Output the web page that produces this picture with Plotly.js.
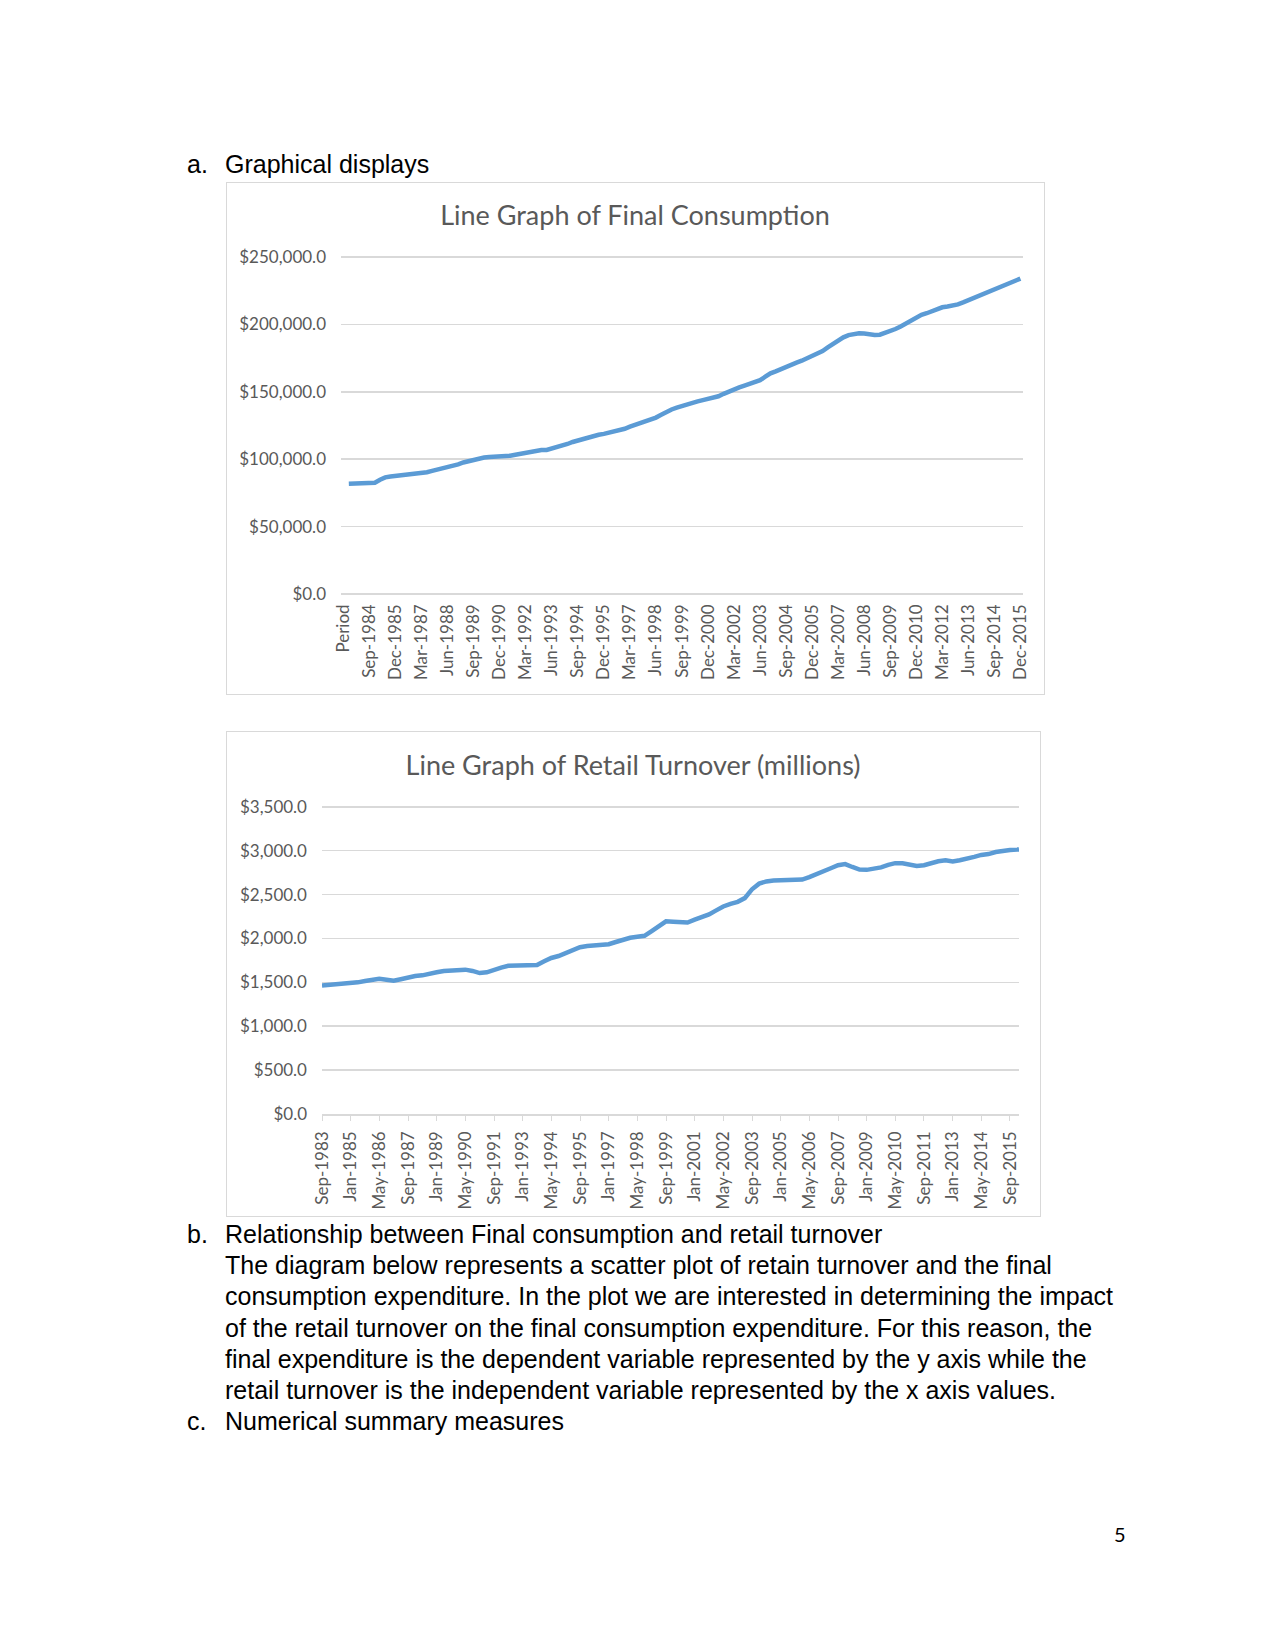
<!DOCTYPE html>
<html>
<head>
<meta charset="utf-8">
<script src="https://cdn.plot.ly/plotly-3.0.1.min.js"></script>
<style>
  html, body { margin: 0; padding: 0; background: #ffffff; }
  #page { position: relative; width: 1275px; height: 1650px; background: #ffffff; overflow: hidden; }
  .txt { position: absolute; font-family: 'Liberation Sans', Arial, sans-serif; font-size: 25px; line-height: 31.2px; color: #000; white-space: nowrap; }
  .chartbox { position: absolute; border: 1.5px solid #d9d9d9; box-sizing: border-box; background: #fff; }
  #pg { position: absolute; font-family: Lato, 'Open Sans', sans-serif; font-size: 20px; color: #000; }
</style>
</head>
<body>
<div id="page">
  <div class="txt" style="left:187px; top:149px;">a.</div>
  <div class="txt" style="left:225px; top:149px;">Graphical displays</div>

  <div id="chart1" class="chartbox" style="left:226px; top:182px; width:819px; height:513px;"></div>
  <div id="chart2" class="chartbox" style="left:226px; top:731px; width:815px; height:486px;"></div>

  <div class="txt" style="left:187px; top:1219px;">b.</div>
  <div class="txt" style="left:225px; top:1219px;">Relationship between Final consumption and retail turnover<br>The diagram below represents a scatter plot of retain turnover and the final<br>consumption expenditure. In the plot we are interested in determining the impact<br>of the retail turnover on the final consumption expenditure. For this reason, the<br>final expenditure is the dependent variable represented by the y axis while the<br>retail turnover is the independent variable represented by the x axis values.</div>
  <div class="txt" style="left:187px; top:1406px;">c.</div>
  <div class="txt" style="left:225px; top:1406px;">Numerical summary measures</div>

  <div id="pg" style="left:1114px; top:1522px;">5</div>
</div>
<script>
// ---------- Chart 1: Final Consumption (quarterly, category axis) ----------
const consumptionCategories = [
  "Period",
  "Sep-1983","Dec-1983",
  "Mar-1984","Jun-1984","Sep-1984","Dec-1984",
  "Mar-1985","Jun-1985","Sep-1985","Dec-1985",
  "Mar-1986","Jun-1986","Sep-1986","Dec-1986",
  "Mar-1987","Jun-1987","Sep-1987","Dec-1987",
  "Mar-1988","Jun-1988","Sep-1988","Dec-1988",
  "Mar-1989","Jun-1989","Sep-1989","Dec-1989",
  "Mar-1990","Jun-1990","Sep-1990","Dec-1990",
  "Mar-1991","Jun-1991","Sep-1991","Dec-1991",
  "Mar-1992","Jun-1992","Sep-1992","Dec-1992",
  "Mar-1993","Jun-1993","Sep-1993","Dec-1993",
  "Mar-1994","Jun-1994","Sep-1994","Dec-1994",
  "Mar-1995","Jun-1995","Sep-1995","Dec-1995",
  "Mar-1996","Jun-1996","Sep-1996","Dec-1996",
  "Mar-1997","Jun-1997","Sep-1997","Dec-1997",
  "Mar-1998","Jun-1998","Sep-1998","Dec-1998",
  "Mar-1999","Jun-1999","Sep-1999","Dec-1999",
  "Mar-2000","Jun-2000","Sep-2000","Dec-2000",
  "Mar-2001","Jun-2001","Sep-2001","Dec-2001",
  "Mar-2002","Jun-2002","Sep-2002","Dec-2002",
  "Mar-2003","Jun-2003","Sep-2003","Dec-2003",
  "Mar-2004","Jun-2004","Sep-2004","Dec-2004",
  "Mar-2005","Jun-2005","Sep-2005","Dec-2005",
  "Mar-2006","Jun-2006","Sep-2006","Dec-2006",
  "Mar-2007","Jun-2007","Sep-2007","Dec-2007",
  "Mar-2008","Jun-2008","Sep-2008","Dec-2008",
  "Mar-2009","Jun-2009","Sep-2009","Dec-2009",
  "Mar-2010","Jun-2010","Sep-2010","Dec-2010",
  "Mar-2011","Jun-2011","Sep-2011","Dec-2011",
  "Mar-2012","Jun-2012","Sep-2012","Dec-2012",
  "Mar-2013","Jun-2013","Sep-2013","Dec-2013",
  "Mar-2014","Jun-2014","Sep-2014","Dec-2014",
  "Mar-2015","Jun-2015","Sep-2015","Dec-2015"
];
const consumptionValues = [
  null,
  81800, 82100,
  82300, 82400, 82500, 82600,
  84800, 86500, 87200, 87600,
  88200, 88700, 89000, 89300,
  89600, 90300, 91300, 92200,
  92800, 93700, 94800, 96200,
  97600, 98700, 99600, 100400,
  101200, 101700, 101900, 101900,
  102000, 102600, 103300, 104100,
  105000, 106000, 106600, 106800,
  106900, 107800, 108700, 109900,
  111300, 112800, 114000, 115000,
  116200, 117300, 118100, 118800,
  119600, 120300, 121300, 122600,
  124100, 125400, 126800, 128300,
  129700, 130900, 132900, 135100,
  136900, 138300, 139600, 140500,
  141800, 142900, 143800, 144600,
  145500, 146700, 148500, 150400,
  151900, 153300, 154600, 155700,
  157000, 158600, 161200, 163700,
  165200, 167000, 168500, 170200,
  171700, 173100, 174700, 176300,
  178200, 180300, 183000, 185800,
  188000, 190400, 192100, 193000,
  193400, 193200, 192600, 192100,
  192400, 193600, 195000, 196600,
  198500, 200800, 203300, 205600,
  207100, 208300, 209700, 211400,
  212700, 213300, 213700, 214900,
  216400, 218000, 219600, 221200,
  222700, 224200, 225700, 227300,
  229100, 230900, 232400, 234000
];
const consumptionTickLabels = [
  "Period","Sep-1984","Dec-1985","Mar-1987","Jun-1988","Sep-1989","Dec-1990",
  "Mar-1992","Jun-1993","Sep-1994","Dec-1995","Mar-1997","Jun-1998","Sep-1999",
  "Dec-2000","Mar-2002","Jun-2003","Sep-2004","Dec-2005","Mar-2007","Jun-2008",
  "Sep-2009","Dec-2010","Mar-2012","Jun-2013","Sep-2014","Dec-2015"
];

// ---------- Chart 2: Retail Turnover (millions) ----------
const retailDates = [
  "1983-09","1984-01","1984-05","1984-09",
  "1985-01","1985-05","1985-09","1986-01",
  "1986-05","1986-09","1987-01","1987-05",
  "1987-09","1988-01","1988-05","1988-09",
  "1989-01","1989-05","1989-09","1990-01",
  "1990-05","1990-09","1991-01","1991-05",
  "1991-09","1992-01","1992-05","1992-09",
  "1993-01","1993-05","1993-09","1994-01",
  "1994-05","1994-09","1995-01","1995-05",
  "1995-09","1996-01","1996-05","1996-09",
  "1997-01","1997-05","1997-09","1998-01",
  "1998-05","1998-09","1999-01","1999-05",
  "1999-09","2000-01","2000-05","2000-09",
  "2001-01","2001-05","2001-09","2002-01",
  "2002-05","2002-09","2003-01","2003-05",
  "2003-09","2004-01","2004-05","2004-09",
  "2005-01","2005-05","2005-09","2006-01",
  "2006-05","2006-09","2007-01","2007-05",
  "2007-09","2008-01","2008-05","2008-09",
  "2009-01","2009-05","2009-09","2010-01",
  "2010-05","2010-09","2011-01","2011-05",
  "2011-09","2012-01","2012-05","2012-09",
  "2013-01","2013-05","2013-09","2014-01",
  "2014-05","2014-09","2015-01","2015-05",
  "2015-09","2016-01","2016-02"
];
const retailValues = [
  1464, 1470, 1474, 1478,
  1485, 1500, 1515, 1530,
  1542, 1530, 1518, 1535,
  1558, 1572, 1580, 1592,
  1615, 1630, 1638, 1642,
  1645, 1630, 1606, 1615,
  1645, 1668, 1688, 1692,
  1693, 1692, 1698, 1740,
  1778, 1800, 1830, 1865,
  1900, 1915, 1918, 1920,
  1935, 1960, 1990, 2008,
  2020, 2030, 2085, 2140,
  2195, 2192, 2183, 2182,
  2215, 2245, 2275, 2320,
  2365, 2395, 2418, 2460,
  2560, 2625, 2650, 2660,
  2663, 2662, 2660, 2672,
  2700, 2730, 2758, 2800,
  2835, 2848, 2815, 2785,
  2782, 2790, 2810, 2838,
  2858, 2858, 2840, 2826,
  2835, 2860, 2880, 2890,
  2878, 2892, 2905, 2930,
  2952, 2962, 2985, 3000,
  3008, 3013, 3015
];
const retailTickDates = [
  "1983-09-01","1985-01-01","1986-05-01","1987-09-01","1989-01-01","1990-05-01",
  "1991-09-01","1993-01-01","1994-05-01","1995-09-01","1997-01-01","1998-05-01",
  "1999-09-01","2001-01-01","2002-05-01","2003-09-01","2005-01-01","2006-05-01",
  "2007-09-01","2009-01-01","2010-05-01","2011-09-01","2013-01-01","2014-05-01",
  "2015-09-01"
];
const retailTickLabels = [
  "Sep-1983","Jan-1985","May-1986","Sep-1987","Jan-1989","May-1990",
  "Sep-1991","Jan-1993","May-1994","Sep-1995","Jan-1997","May-1998",
  "Sep-1999","Jan-2001","May-2002","Sep-2003","Jan-2005","May-2006",
  "Sep-2007","Jan-2009","May-2010","Sep-2011","Jan-2013","May-2014",
  "Sep-2015"
];

const FONT = 'Lato, Carlito, "Open Sans", sans-serif';
const GREY = '#595959';
const GRID = '#d9d9d9';
const LINE = '#5b9bd5';

Plotly.newPlot('chart1', [{
  type: 'scatter', mode: 'lines',
  x: consumptionCategories, y: consumptionValues,
  line: { color: LINE, width: 4.5 },
  connectgaps: false, hoverinfo: 'skip'
}], {
  width: 816, height: 510,
  margin: { l: 114, r: 20, t: 72, b: 99 },
  paper_bgcolor: '#fff', plot_bgcolor: '#fff',
  showlegend: false,
  title: {
    text: 'Line Graph of Final Consumption',
    font: { family: FONT, size: 27, color: GREY },
    xref: 'container', x: 0.5, xanchor: 'center',
    yref: 'container', y: 1 - 33 / 510, yanchor: 'middle'
  },
  xaxis: {
    type: 'category',
    categoryorder: 'array', categoryarray: consumptionCategories,
    range: [-0.5, consumptionCategories.length - 0.5],
    tickmode: 'array', tickvals: consumptionTickLabels, ticktext: consumptionTickLabels,
    tickangle: -90, ticks: '', showgrid: false, showline: false, zeroline: false,
    tickfont: { family: FONT, size: 17, color: GREY },
    ticklabelstandoff: 6
  },
  yaxis: {
    range: [0, 251500], dtick: 50000, tick0: 0,
    tickformat: '$,.1f',
    gridcolor: GRID, gridwidth: 1.5,
    zeroline: true, zerolinecolor: GRID, zerolinewidth: 1.5,
    showline: false, ticks: '',
    tickfont: { family: FONT, size: 17, color: GREY },
    ticklabelstandoff: 14
  }
}, { displayModeBar: false, staticPlot: true });

Plotly.newPlot('chart2', [{
  type: 'scatter', mode: 'lines',
  x: retailDates, y: retailValues,
  line: { color: LINE, width: 4.5 },
  hoverinfo: 'skip'
}], {
  width: 812, height: 483,
  margin: { l: 95, r: 20, t: 73, b: 101 },
  paper_bgcolor: '#fff', plot_bgcolor: '#fff',
  showlegend: false,
  title: {
    text: 'Line Graph of Retail Turnover (millions)',
    font: { family: FONT, size: 27, color: GREY },
    xref: 'container', x: 0.5, xanchor: 'center',
    yref: 'container', y: 1 - 34 / 483, yanchor: 'middle'
  },
  xaxis: {
    type: 'date',
    range: ['1983-09-01', '2016-02-01'],
    tickmode: 'array', tickvals: retailTickDates, ticktext: retailTickLabels,
    tickangle: -90, ticks: 'outside', ticklen: 5, tickwidth: 1, tickcolor: GRID,
    showgrid: false, showline: true, linecolor: GRID, linewidth: 1.5, zeroline: false,
    tickfont: { family: FONT, size: 17, color: GREY },
    ticklabelstandoff: 4
  },
  yaxis: {
    range: [0, 3521], dtick: 500, tick0: 0,
    tickformat: '$,.1f',
    gridcolor: GRID, gridwidth: 1.5,
    zeroline: false,
    showline: false, ticks: '',
    tickfont: { family: FONT, size: 17, color: GREY },
    ticklabelstandoff: 14
  }
}, { displayModeBar: false, staticPlot: true });
</script>
</body>
</html>
